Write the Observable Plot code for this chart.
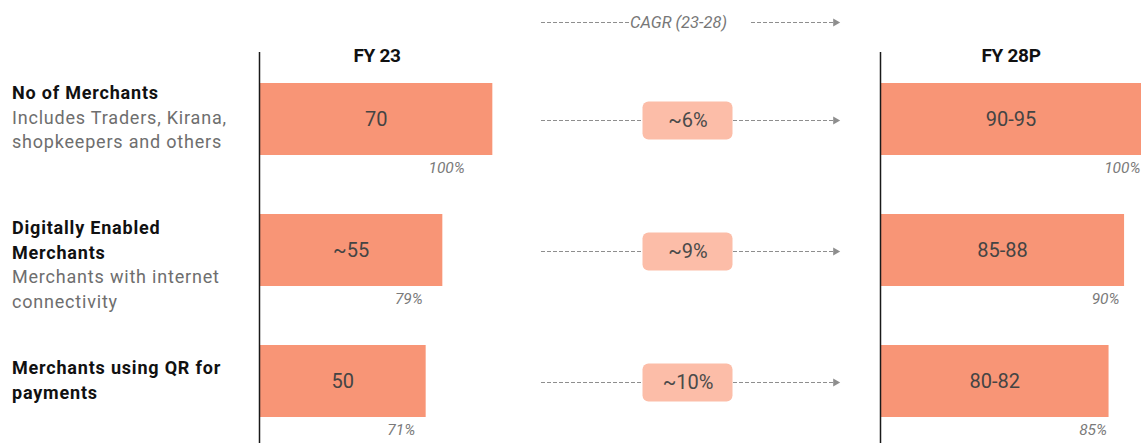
<!DOCTYPE html>
<html><head><meta charset="utf-8">
<script src="https://cdn.jsdelivr.net/npm/d3@7"></script>
<script src="https://cdn.jsdelivr.net/npm/@observablehq/plot@0.6"></script>
<style>
body{margin:0;background:#fff;font-family:Roboto, "DejaVu Sans", sans-serif;}
#chart{position:relative;width:1141px;height:443px;overflow:hidden;background:#fff;}
.plot{position:absolute;top:0;}
.lbl{position:absolute;left:12px;font-size:18px;line-height:24.5px;color:#6e6e6e;white-space:nowrap;letter-spacing:0.8px;}
.lbl .t{color:#111;font-weight:700;letter-spacing:0.8px;}
.hdr{position:absolute;top:55px;font-weight:700;font-size:19px;color:#111;transform:translate(-50%,-50%);white-space:nowrap;letter-spacing:-0.3px;}
</style></head><body><div id="chart"></div>
<script>
// ---- data ----
const categories = ["No of Merchants", "Digitally Enabled Merchants", "Merchants using QR for payments"];
const titleLines = [["No of Merchants"], ["Digitally Enabled", "Merchants"], ["Merchants using QR for", "payments"]];
const descLines = [["Includes Traders, Kirana,", "shopkeepers and others"], ["Merchants with internet", "connectivity"], []];
const periods = ["FY 23", "FY 28P"];
const fy23Values = [70, 55, 50];
const fy23Labels = ["70", "~55", "50"];
const fy23Share = ["100%", "79%", "71%"];
const fy28Low = [90, 85, 80];
const fy28High = [95, 88, 82];
const fy28Share = ["100%", "90%", "85%"];
const cagrLabels = ["~6%", "~9%", "~10%"];
const cagrTitle = "CAGR (23-28)";

// ---- styles / layout ----
const barColor = "#f89576";
const boxColor = "#fcbda8";
const dashColor = "#8e8e8e";
const labelTops = [81, 216, 356];
const leftShareDx = [-28, -20, -11];
const rightShareDx = [-1, -5, -2];

const rows = categories.map((c, i) => ({
  cat: c,
  fy23: fy23Values[i], fy23Label: fy23Labels[i], fy23Share: fy23Share[i],
  fy28: (fy28Low[i] + fy28High[i]) / 2, fy28Label: `${fy28Low[i]}-${fy28High[i]}`, fy28Share: fy28Share[i],
  cagr: cagrLabels[i]
}));

function roundRect(w, h, r) {
  return {draw(ctx) {
    const x = -w / 2, y = -h / 2;
    ctx.moveTo(x + r, y); ctx.lineTo(x + w - r, y); ctx.arcTo(x + w, y, x + w, y + r, r);
    ctx.lineTo(x + w, y + h - r); ctx.arcTo(x + w, y + h, x + w - r, y + h, r);
    ctx.lineTo(x + r, y + h); ctx.arcTo(x, y + h, x, y + h - r, r);
    ctx.lineTo(x, y + r); ctx.arcTo(x, y, x + r, y, r); ctx.closePath();
  }};
}

const font = "Roboto, sans-serif";
const yBand = {domain: categories, paddingInner: 0.45, paddingOuter: 0, insetTop: 31, insetBottom: 25, axis: null};
const common = {height: 443, marginTop: 52, marginBottom: 0, marginRight: 0, marginLeft: 10,
  style: {background: "transparent", overflow: "visible", fontFamily: font}};

const chart = document.getElementById("chart");
function place(el, left) { el.classList.add("plot"); el.style.left = left + "px"; chart.appendChild(el); }

const shareText = (field, dxs) => rows.map((r, i) =>
  Plot.text([r], {x: field, y: "cat", text: field + "Share", textAnchor: "end", dx: dxs[i], dy: 49,
    fontStyle: "italic", fontSize: 15.5, fill: "#7a7a7a"}));

// left panel FY 23
const leftPlot = Plot.plot({
  ...common, width: 300,
  x: {domain: [0, 87], axis: null},
  y: yBand,
  marks: [
    Plot.barX(rows, {x: "fy23", y: "cat", fill: barColor}),
    Plot.text(rows, {x: d => d.fy23 / 2, y: "cat", text: "fy23Label", fontSize: 20, fill: "#444"}),
    ...shareText("fy23", leftShareDx),
    Plot.ruleX([0], {stroke: "#1a1a1a", strokeWidth: 1.5})
  ]
});
place(leftPlot, 249);

// right panel FY 28P
const rightPlot = Plot.plot({
  ...common, width: 271,
  x: {domain: [0, 92.5], axis: null},
  y: yBand,
  marks: [
    Plot.barX(rows, {x: "fy28", y: "cat", fill: barColor}),
    Plot.text(rows, {x: d => d.fy28 / 2, y: "cat", text: "fy28Label", fontSize: 20, fill: "#444"}),
    ...shareText("fy28", rightShareDx),
    Plot.ruleX([0], {stroke: "#1a1a1a", strokeWidth: 1.5})
  ]
});
place(rightPlot, 870);

// middle CAGR arrows
const midPlot = Plot.plot({
  width: 300, height: 443, marginTop: 52, marginBottom: 0, marginLeft: 0, marginRight: 3,
  style: {background: "transparent", overflow: "visible", fontFamily: font},
  y: {type: "point", domain: categories, padding: 0.275, insetTop: 31, insetBottom: 25, axis: null},
  marks: [
    Plot.ruleY(rows, {y: "cat", stroke: dashColor, strokeDasharray: "4,2"}),
    Plot.dot(rows, {y: "cat", frameAnchor: "right", symbol: "triangle", rotate: 90, fill: dashColor, r: 3, dx: -3}),
    Plot.dot(rows, {y: "cat", frameAnchor: "middle", symbol: roundRect(90, 38, 6), fill: boxColor, dx: -2.5}),
    Plot.text(rows, {y: "cat", frameAnchor: "middle", text: "cagr", dx: -2, fontSize: 20, fill: "#4a4a4a"})
  ]
});
place(midPlot, 541);

// CAGR header arrow
const headPlot = Plot.plot({
  width: 300, height: 44, marginTop: 0, marginBottom: 0, marginLeft: 0, marginRight: 3,
  style: {background: "transparent", overflow: "visible", fontFamily: font},
  y: {domain: [-1, 1], axis: null},
  marks: [
    Plot.ruleY([0], {stroke: dashColor, strokeDasharray: "4,2"}),
    Plot.dot([cagrTitle], {frameAnchor: "right", symbol: "triangle", rotate: 90, fill: dashColor, r: 3, dx: -3}),
    Plot.dot([cagrTitle], {frameAnchor: "middle", symbol: roundRect(122, 18, 0), fill: "white"}),
    Plot.text([cagrTitle], {frameAnchor: "middle", text: d => d, textAnchor: "start", dx: -60, fontStyle: "italic", fontSize: 16.5, fill: "#777"})
  ]
});
place(headPlot, 541);

// headers
[[periods[0], 377], [periods[1], 1011]].forEach(([t, x]) => {
  const d = document.createElement("div");
  d.className = "hdr"; d.style.left = x + "px"; d.textContent = t;
  chart.appendChild(d);
});

// row labels
categories.forEach((c, i) => {
  const d = document.createElement("div");
  d.className = "lbl"; d.style.top = labelTops[i] + "px";
  titleLines[i].forEach(l => { const s = document.createElement("div"); s.className = "t"; s.textContent = l; d.appendChild(s); });
  descLines[i].forEach(l => { const s = document.createElement("div"); s.textContent = l; d.appendChild(s); });
  chart.appendChild(d);
});
</script></body></html>
